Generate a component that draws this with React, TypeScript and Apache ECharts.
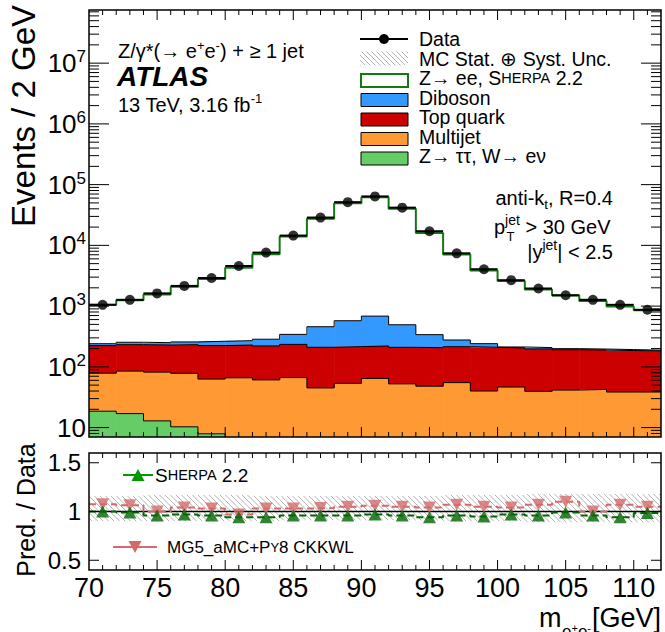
import { useEffect, useRef } from 'react';
import * as echarts from 'echarts';

const FONT = '"Liberation Sans", Arial, Helvetica, sans-serif';

// ---------- data ----------
const binEdges = [70, 72, 74, 76, 78, 80, 82, 84, 86, 88, 90, 92, 94, 96, 98, 100, 102, 104, 106, 108, 110, 112];
const binCenters = [71, 73, 75, 77, 79, 81, 83, 85, 87, 89, 91, 93, 95, 97, 99, 101, 103, 105, 107, 109, 111];
const dataEvents = [1050, 1270, 1620, 2150, 2900, 4580, 7600, 14500, 28700, 51500, 64000, 41800, 17100, 7400, 4050, 2670, 1950, 1510, 1270, 1050, 870];
const zeeSherpa = [810, 1000, 1300, 1830, 2520, 4030, 6860, 13600, 27100, 48900, 61400, 39600, 15700, 6830, 3610, 2380, 1670, 1300, 1020, 795, 667];
const diboson = [17, 22, 21, 25, 40, 41, 64, 108, 248, 359, 464, 284, 132, 62, 31, 8, 10, 8, 7, 7, 5];
const topQuark = [145, 147, 147, 154, 161, 163, 160, 168, 165, 162, 156, 157, 159, 160, 170, 158, 158, 150, 147, 147, 145];
const multijet = [60, 68, 69, 68, 55, 60, 56, 62, 41, 50, 61, 49, 45, 52, 37, 44, 37, 39, 40, 36, 36];
const zTauTauWenu = [18.6, 17, 12.9, 10.3, 7.9, 6, 5, 4.5, 4, 3.5, 3.5, 3.5, 3, 3, 3, 2.5, 2.5, 2.5, 2.5, 2.5, 2.5];

const ratioSherpa = [1.0, 0.99, 0.96, 0.97, 0.96, 0.94, 0.94, 0.96, 0.96, 0.96, 0.97, 0.96, 0.94, 0.96, 0.95, 0.97, 0.96, 0.99, 0.96, 0.94, 0.985];
const ratioMG5 = [1.075, 1.065, 1.0, 1.04, 1.03, 0.97, 1.03, 1.03, 1.035, 1.05, 1.06, 1.05, 1.04, 1.07, 1.05, 1.04, 1.07, 1.1, 1.0, 1.07, 1.05];
const uncUp = [1.16, 1.16, 1.17, 1.17, 1.17, 1.17, 1.16, 1.16, 1.16, 1.16, 1.16, 1.16, 1.16, 1.17, 1.17, 1.17, 1.18, 1.18, 1.18, 1.18, 1.18];
const uncDown = [0.9, 0.9, 0.9, 0.9, 0.9, 0.9, 0.9, 0.91, 0.91, 0.91, 0.91, 0.91, 0.91, 0.9, 0.9, 0.9, 0.89, 0.89, 0.89, 0.89, 0.89];

const xLabelTicks = [70, 75, 80, 85, 90, 95, 100, 105, 110];
const ratioLabelTicks = [0.5, 1, 1.5];

const Y_MIN = 7;
const Y_MAX = 7.5e7;
const R_MIN = 0.4;
const R_MAX = 1.6;

const C_ZTT = '#66cc66';
const C_MJ = '#ff9933';
const C_TOP = '#cc0000';
const C_VV = '#3399ff';
const C_ZEE = '#127a12';
const C_MG5 = '#d46a6a';
const C_SHERPA = '#006600';
const C_SHERPA_LEG = '#009900';
const C_HATCH = '#b4b4b4';

// ---------- helpers ----------
const stackLayers = [zTauTauWenu, multijet, topQuark, diboson, zeeSherpa];
const stackColors = [C_ZTT, C_MJ, C_TOP, C_VV, '#ffffff'];
const cum: number[][] = [];
stackLayers.forEach((layer, k) => {
  cum.push(layer.map((v, i) => v + (k > 0 ? cum[k - 1][i] : 0)));
});

function hatchLines(xa: number, xb: number, ya: number, yb: number, spacing: number, color: string) {
  const out: any[] = [];
  const cMin = ya - xb;
  const cMax = yb - xa;
  for (let k = Math.ceil(cMin / spacing); k * spacing <= cMax; k++) {
    const c = k * spacing;
    const x1 = Math.max(xa, ya - c);
    const x2 = Math.min(xb, yb - c);
    if (x2 > x1) out.push({ type: 'line', shape: { x1, y1: x1 + c, x2, y2: x2 + c }, style: { stroke: color, lineWidth: 1 } });
  }
  return out;
}

function fillSeries(k: number) {
  const lower = k === 0 ? binCenters.map(() => Y_MIN) : cum[k - 1];
  const upper = cum[k];
  return {
    type: 'custom',
    xAxisIndex: 0,
    yAxisIndex: 0,
    z: 2,
    clip: true,
    silent: true,
    encode: { x: [0, 1], y: [2, 3] },
    data: binCenters.map((_, i) => [binEdges[i], binEdges[i + 1], Math.max(lower[i], Y_MIN), Math.max(upper[i], Y_MIN)]),
    renderItem: (_p: any, api: any) => {
      const a = api.coord([api.value(0), api.value(2)]);
      const b = api.coord([api.value(1), api.value(3)]);
      return {
        type: 'rect',
        shape: { x: a[0], y: b[1], width: b[0] - a[0] + 0.6, height: a[1] - b[1] },
        style: { fill: stackColors[k] },
      };
    },
  };
}

function stepLine(values: number[], color: string, width: number, xi: number, yi: number, dash?: number[], z = 3) {
  return {
    type: 'line',
    xAxisIndex: xi,
    yAxisIndex: yi,
    step: 'end',
    symbol: 'none',
    silent: true,
    z,
    clip: true,
    lineStyle: { color, width, type: dash ? dash : 'solid' },
    data: binEdges.map((e, i) => [e, values[Math.min(i, values.length - 1)]]),
  };
}

function tickSeries(xi: number, yi: number, anchorY: number, yTicks: { v: number; len: number }[], xAnchor: number) {
  const xTicks: { v: number; len: number }[] = [];
  for (let v = 71; v < 112; v++) xTicks.push({ v, len: v % 5 === 0 ? 10 : 5 });
  return {
    type: 'custom',
    xAxisIndex: xi,
    yAxisIndex: yi,
    z: 20,
    silent: true,
    data: [[xAnchor, anchorY]],
    renderItem: (params: any, api: any) => {
      const cs = params.coordSys;
      const ln = (x1: number, y1: number, x2: number, y2: number) => ({
        type: 'line',
        shape: { x1, y1, x2, y2 },
        style: { stroke: '#000', lineWidth: 1 },
      });
      const ch: any[] = [];
      const bot = cs.y + cs.height;
      for (const t of xTicks) {
        const px = api.coord([t.v, anchorY])[0];
        ch.push(ln(px, bot, px, bot - t.len));
        ch.push(ln(px, cs.y, px, cs.y + t.len));
      }
      for (const t of yTicks) {
        const py = api.coord([xAnchor, t.v])[1];
        ch.push(ln(cs.x, py, cs.x + t.len, py));
        ch.push(ln(cs.x + cs.width, py, cs.x + cs.width - t.len, py));
      }
      ch.push({
        type: 'rect',
        shape: { x: cs.x, y: cs.y, width: cs.width, height: cs.height },
        style: { fill: 'none', stroke: '#000', lineWidth: 1.5 },
      });
      return { type: 'group', children: ch };
    },
  };
}

function txt(x: number, y: number, text: string, size: number, extra: any = {}, rich?: any) {
  return {
    type: 'text',
    x,
    y,
    z: 100,
    rotation: extra.rotation || 0,
    style: {
      text,
      fill: '#000',
      fontSize: size,
      fontFamily: FONT,
      fontWeight: extra.fontWeight || 'normal',
      fontStyle: extra.fontStyle || 'normal',
      align: extra.align || 'left',
      verticalAlign: extra.verticalAlign || 'middle',
      lineHeight: extra.lineHeight,
      rich,
    },
  };
}

function buildOption() {
  const logTicks: { v: number; len: number }[] = [];
  for (let k = 0; k <= 8; k++) {
    for (let m = 1; m <= 9; m++) {
      const v = m * Math.pow(10, k);
      if (v > Y_MIN && v < Y_MAX) logTicks.push({ v, len: m === 1 ? 20 : 10 });
    }
  }
  const ratioTicks = ratioLabelTicks.map((v) => ({ v, len: 10 }));

  const TS = 20; // main annotation font size
  const LS = 19.5; // legend font size
  const supRich = {
    sup: { fontSize: 13, fontFamily: FONT, fill: '#000', color: '#000', verticalAlign: 'top', lineHeight: 13 },
    sub: { fontSize: 13, fontFamily: FONT, fill: '#000', color: '#000', verticalAlign: 'bottom', lineHeight: 13 },
    sc: { fontSize: 14.5, fontFamily: FONT, color: '#000', lineHeight: 17 },
  };
  const jetRich = { ...supRich, sup: { ...supRich.sup, fontSize: 14, lineHeight: 14 } };

  // legend positions (layout)
  const LX = 360;
  const LW = 48;
  const TX = 419;
  const rows = [39, 58.5, 78, 97.5, 117, 136.5, 156];
  const LEG = { lineHeight: 17 };

  const graphics: any[] = [];
  // Data legend
  graphics.push({ type: 'line', z: 100, shape: { x1: LX, y1: rows[0], x2: LX + LW, y2: rows[0] }, style: { stroke: '#000', lineWidth: 2 } });
  graphics.push({ type: 'circle', z: 100, shape: { cx: LX + LW / 2, cy: rows[0], r: 5 }, style: { fill: '#000' } });
  // MC stat hatch legend
  hatchLines(LX, LX + LW, rows[1] - 7, rows[1] + 7, 5, C_HATCH).forEach((l) => graphics.push({ ...l, z: 100 }));
  // boxes
  const boxes = [
    { c: '#ffffff', s: C_ZEE, w: 2 },
    { c: C_VV, s: '#000', w: 1 },
    { c: C_TOP, s: '#000', w: 1 },
    { c: C_MJ, s: '#000', w: 1 },
    { c: C_ZTT, s: '#000', w: 1 },
  ];
  boxes.forEach((b, i) => {
    const cy = rows[i + 2] + 2.5;
    graphics.push({ type: 'rect', z: 100, shape: { x: LX + 1, y: cy - 6.5, width: LW - 1, height: 13 }, style: { fill: b.c, stroke: b.s, lineWidth: b.w } });
  });
  graphics.push(txt(TX, rows[0], 'Data', LS, LEG));
  graphics.push(txt(TX, rows[1], 'MC Stat. ⊕ Syst. Unc.', LS, LEG));
  graphics.push(txt(TX, rows[2], 'Z→ ee, S{sc|HERPA} 2.2', LS, LEG, supRich));
  graphics.push(txt(TX, rows[3], 'Diboson', LS, LEG));
  graphics.push(txt(TX, rows[4], 'Top quark', LS, LEG));
  graphics.push(txt(TX, rows[5], 'Multijet', LS, LEG));
  graphics.push(txt(TX, rows[6], 'Z→ ττ, W→ eν', LS, LEG));

  // left labels
  graphics.push(txt(118, 51, 'Z/γ*(→ e{sup|+}e{sup|-}) + ≥ 1 jet', TS, { lineHeight: 25 }, supRich));
  graphics.push(txt(117, 76.5, 'ATLAS', 28, { fontWeight: 'bold', fontStyle: 'italic', lineHeight: 24 }));
  graphics.push(txt(118, 104.5, '13 TeV, 3.16 fb{sup|-1}', TS, { lineHeight: 25 }, supRich));

  // right cut labels
  graphics.push(txt(613, 198, 'anti-k{sub|t}, R=0.4', TS, { align: 'right', lineHeight: 25 }, supRich));
  graphics.push(txt(494, 226.5, 'p{sup|jet} > 30 GeV', TS, { align: 'left', lineHeight: 27 }, jetRich));
  graphics.push(txt(506.5, 236, 'T', 13, { lineHeight: 11 }));
  graphics.push(txt(613, 251.5, '|y{sup|jet}| < 2.5', TS, { align: 'right', lineHeight: 27 }, jetRich));

  // axis titles
  graphics.push(txt(23, 5, 'Events / 2 GeV', 33, { rotation: Math.PI / 2, align: 'right' }));
  graphics.push(txt(26, 510, 'Pred. / Data', 25, { rotation: Math.PI / 2, align: 'center' }));
  graphics.push(txt(661, 618, '[GeV]', 27, { align: 'right', lineHeight: 26 }));
  graphics.push(txt(539, 618, 'm', 27, { align: 'left', lineHeight: 26 }));
  graphics.push(
    txt(562, 631, 'e{ss|+}e{ss|-}', 17, { align: 'left', lineHeight: 18 }, {
      ss: { fontSize: 11, fontFamily: FONT, verticalAlign: 'top', lineHeight: 11 },
    })
  );

  // ratio legend
  graphics.push({ type: 'line', z: 100, shape: { x1: 123, y1: 475, x2: 153, y2: 475 }, style: { stroke: C_SHERPA_LEG, lineWidth: 2 } });
  graphics.push({ type: 'polygon', z: 100, shape: { points: [[138, 469], [144.5, 481], [131.5, 481]] }, style: { fill: C_SHERPA_LEG } });
  graphics.push(txt(155, 475, 'S{sc|HERPA} 2.2', 19, {}, { sc: { fontSize: 14.5, fontFamily: FONT } }));
  graphics.push({ type: 'line', z: 100, shape: { x1: 113, y1: 547, x2: 157, y2: 547 }, style: { stroke: C_MG5, lineWidth: 2 } });
  graphics.push({ type: 'polygon', z: 100, shape: { points: [[128.5, 541], [141.5, 541], [135, 553]] }, style: { fill: C_MG5 } });
  graphics.push(txt(167, 547, 'MG5_aMC+P{sc|Y}8 CKKWL', 17, {}, { sc: { fontSize: 13, fontFamily: FONT } }));

  const series: any[] = [];
  for (let k = 0; k < stackLayers.length; k++) series.push(fillSeries(k));
  for (let k = 0; k < 4; k++) series.push(stepLine(cum[k], '#000', 1, 0, 0));
  series.push(stepLine(cum[4], C_ZEE, 2, 0, 0, undefined, 4));
  // data horizontal bars
  series.push({
    type: 'custom',
    xAxisIndex: 0,
    yAxisIndex: 0,
    z: 5,
    silent: true,
    encode: { x: [0, 1], y: 2 },
    data: binCenters.map((_, i) => [binEdges[i], binEdges[i + 1], dataEvents[i]]),
    renderItem: (_p: any, api: any) => {
      const a = api.coord([api.value(0), api.value(2)]);
      const b = api.coord([api.value(1), api.value(2)]);
      return { type: 'line', shape: { x1: a[0], y1: a[1], x2: b[0], y2: b[1] }, style: { stroke: '#000', lineWidth: 2 } };
    },
  });
  series.push({
    type: 'scatter',
    xAxisIndex: 0,
    yAxisIndex: 0,
    z: 6,
    symbol: 'circle',
    symbolSize: 10,
    itemStyle: { color: '#000' },
    data: binCenters.map((c, i) => [c, dataEvents[i]]),
  });
  series.push(tickSeries(0, 0, Y_MIN, logTicks, 70));

  // ratio panel
  series.push({
    type: 'custom',
    xAxisIndex: 1,
    yAxisIndex: 1,
    z: 2,
    silent: true,
    clip: true,
    encode: { x: [0, 1], y: [2, 3] },
    data: binCenters.map((_, i) => [binEdges[i], binEdges[i + 1], uncDown[i], uncUp[i]]),
    renderItem: (_p: any, api: any) => {
      const a = api.coord([api.value(0), api.value(3)]);
      const b = api.coord([api.value(1), api.value(2)]);
      return { type: 'group', children: hatchLines(a[0], b[0], a[1], b[1], 5.5, C_HATCH) };
    },
  });
  series.push({
    type: 'line',
    xAxisIndex: 1,
    yAxisIndex: 1,
    symbol: 'none',
    z: 3,
    silent: true,
    lineStyle: { color: '#000', width: 1.5 },
    data: [[70, 1], [112, 1]],
  });
  series.push(stepLine(ratioMG5, C_MG5, 2, 1, 1, [7, 4], 4));
  series.push(stepLine(ratioSherpa, C_SHERPA, 2, 1, 1, [7, 4], 4));
  series.push({
    type: 'scatter',
    xAxisIndex: 1,
    yAxisIndex: 1,
    z: 6,
    symbol: 'triangle',
    symbolRotate: 180,
    symbolSize: [13, 12],
    itemStyle: { color: C_MG5 },
    data: binCenters.map((c, i) => [c, ratioMG5[i]]),
  });
  series.push({
    type: 'scatter',
    xAxisIndex: 1,
    yAxisIndex: 1,
    z: 7,
    symbol: 'triangle',
    symbolSize: [13, 12],
    itemStyle: { color: C_SHERPA },
    data: binCenters.map((c, i) => [c, ratioSherpa[i]]),
  });
  series.push(tickSeries(1, 1, R_MIN, ratioTicks, 70));

  const hidden = { axisLine: { show: false }, axisTick: { show: false }, splitLine: { show: false } };

  return {
    animation: false,
    backgroundColor: '#ffffff',
    grid: [
      { left: 89, top: 10, width: 572, height: 427, containLabel: false, outerBoundsMode: 'none' },
      { left: 89, top: 453, width: 572, height: 117, containLabel: false, outerBoundsMode: 'none' },
    ],
    xAxis: [
      { gridIndex: 0, type: 'value', min: 70, max: 112, interval: 5, ...hidden, axisLabel: { show: false } },
      {
        gridIndex: 1,
        type: 'value',
        min: 70,
        max: 112,
        interval: 5,
        ...hidden,
        axisLabel: {
          show: true,
          margin: 4,
          color: '#000',
          fontSize: 27,
          fontFamily: FONT,
          formatter: (v: number) => {
            const r = Math.round(v);
            return Math.abs(v - r) < 1e-6 && xLabelTicks.includes(r) ? String(r) : '';
          },
        },
      },
    ],
    yAxis: [
      {
        gridIndex: 0,
        type: 'log',
        logBase: 10,
        min: Y_MIN,
        max: Y_MAX,
        ...hidden,
        axisLabel: {
          show: true,
          margin: 3,
          color: '#000',
          fontSize: 26,
          fontFamily: FONT,
          formatter: (v: number) => {
            const lg = Math.log10(v);
            const e = Math.round(lg);
            if (Math.abs(lg - e) > 1e-6) return '';
            return e === 1 ? '{b|10}' : `{b|10}{s|${e}}`;
          },
          rich: {
            b: { fontSize: 26, fontFamily: FONT, color: '#000', lineHeight: 30 },
            s: { fontSize: 17, fontFamily: FONT, color: '#000', verticalAlign: 'top', lineHeight: 17 },
          },
        },
      },
      {
        gridIndex: 1,
        type: 'value',
        min: R_MIN,
        max: R_MAX,
        interval: 0.1,
        ...hidden,
        axisLabel: {
          show: true,
          margin: 8,
          color: '#000',
          fontSize: 24,
          fontFamily: FONT,
          formatter: (v: number) => {
            const h = Math.round(v * 2) / 2;
            return Math.abs(v - h) < 1e-6 && ratioLabelTicks.includes(h) ? String(h) : '';
          },
        },
      },
    ],
    graphic: { elements: graphics },
    series,
  };
}

export default function App() {
  const ref = useRef<HTMLDivElement>(null);
  useEffect(() => {
    if (!ref.current) return;
    const chart = echarts.init(ref.current, undefined, { renderer: 'svg' });
    chart.setOption(buildOption() as any);
    return () => chart.dispose();
  }, []);
  return (
    <div
      ref={ref}
      style={{ position: 'absolute', left: 0, top: 0, width: 665, height: 632, background: '#fff' }}
    />
  );
}
